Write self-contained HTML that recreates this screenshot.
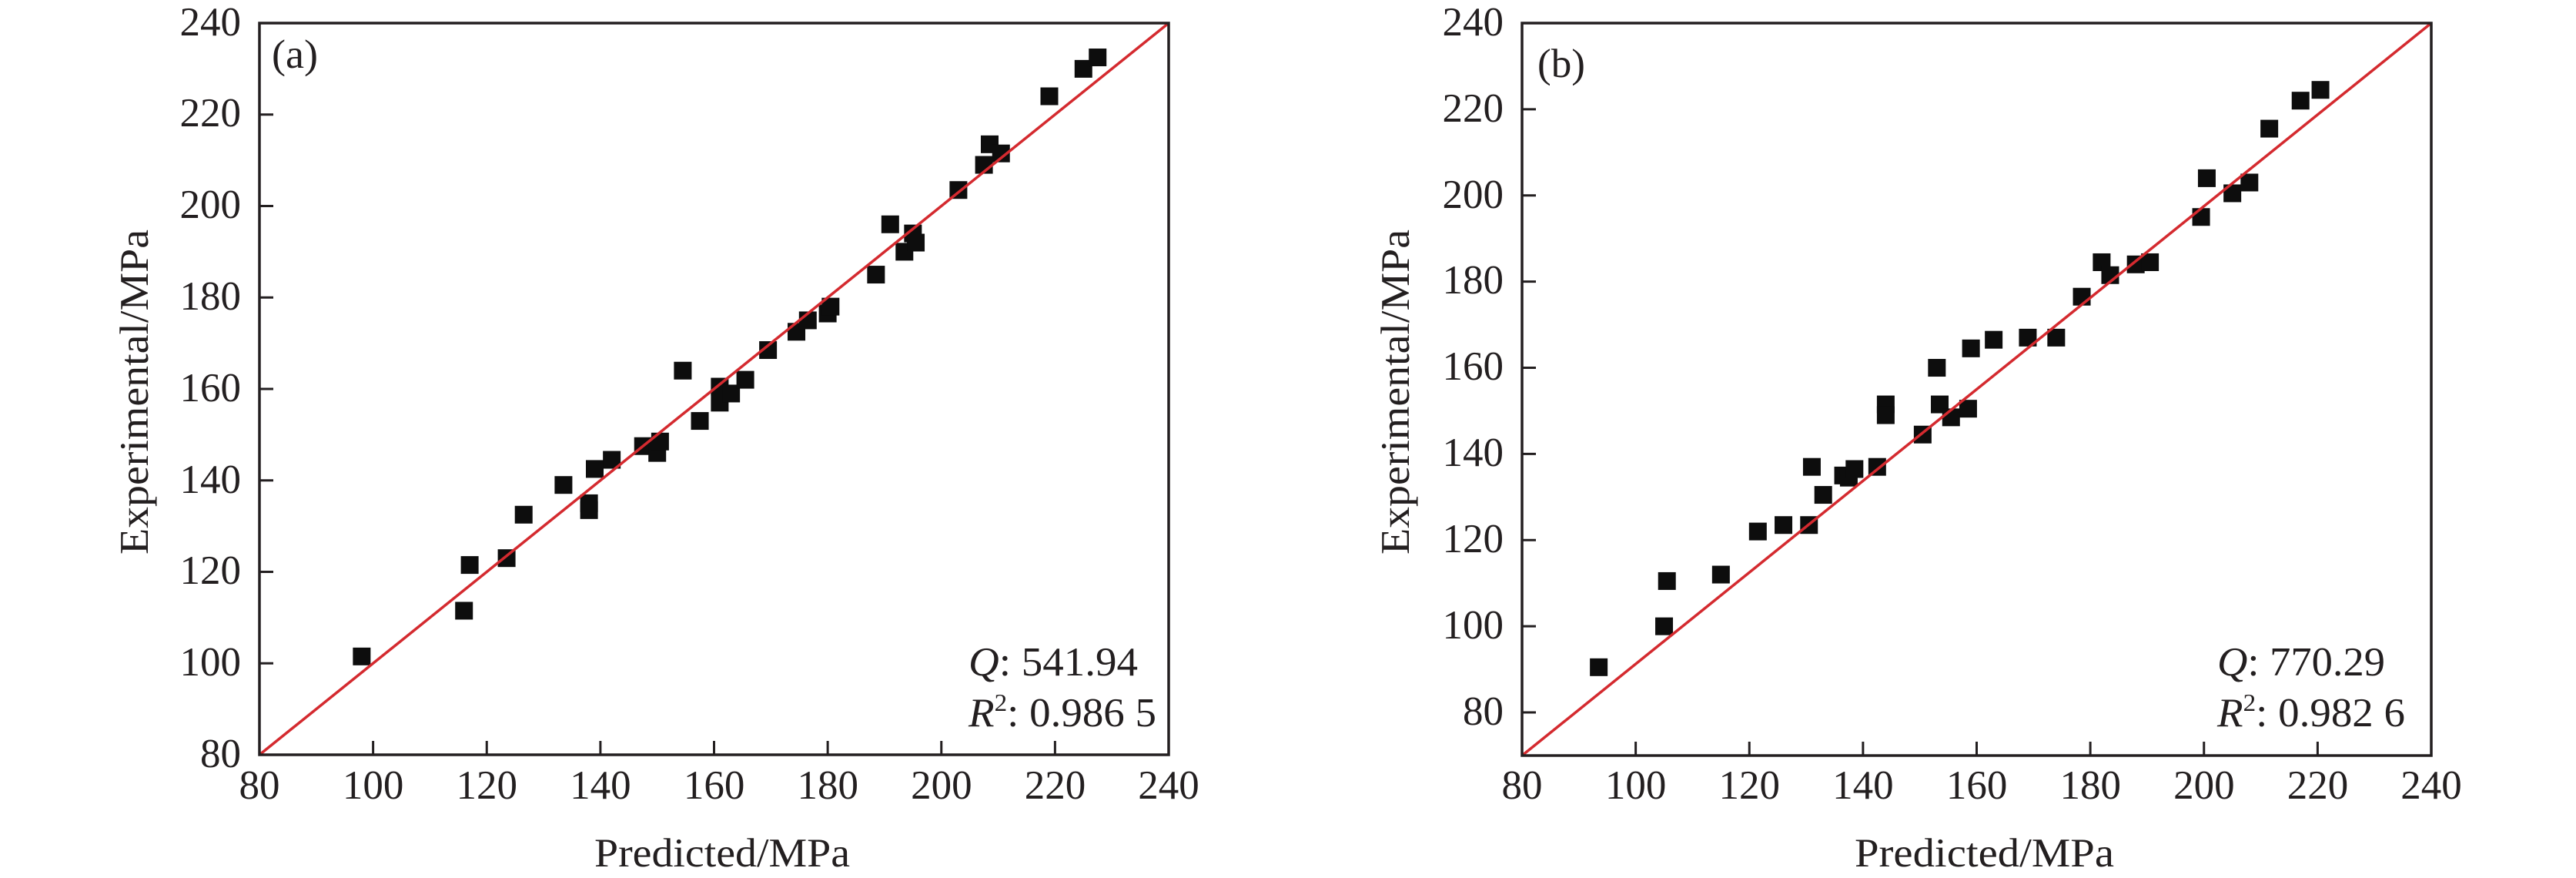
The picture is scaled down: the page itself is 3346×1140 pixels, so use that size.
<!DOCTYPE html>
<html><head><meta charset="utf-8"><style>
html,body{margin:0;padding:0;background:#fff;}
svg{display:block;}
text{font-family:"Liberation Serif",serif;fill:#231f20;}
</style></head><body>
<svg id="s" width="3346" height="1140" xmlns="http://www.w3.org/2000/svg">
<g font-size="53">
<!-- Panel a -->
<g text-anchor="end">
<text x="313" y="996">80</text><text x="313" y="877">100</text><text x="313" y="758">120</text>
<text x="313" y="640">140</text><text x="313" y="521">160</text><text x="313" y="402">180</text>
<text x="313" y="283">200</text><text x="313" y="164">220</text><text x="313" y="46">240</text>
</g>
<g text-anchor="middle">
<text x="337" y="1037">80</text><text x="484.6" y="1037">100</text><text x="632.3" y="1037">120</text>
<text x="779.9" y="1037">140</text><text x="927.6" y="1037">160</text><text x="1075.2" y="1037">180</text>
<text x="1222.9" y="1037">200</text><text x="1370.5" y="1037">220</text><text x="1518" y="1037">240</text>
</g>
<text x="772" y="1125" textLength="332" lengthAdjust="spacingAndGlyphs">Predicted/MPa</text>
<text transform="translate(192,720) rotate(-90)" textLength="422" lengthAdjust="spacingAndGlyphs">Experimental/MPa</text>
<text x="353" y="88" textLength="60" lengthAdjust="spacingAndGlyphs">(a)</text>
<text x="1258" y="877" textLength="220" lengthAdjust="spacingAndGlyphs"><tspan font-style="italic">Q</tspan>: 541.94</text>
<text x="1258" y="943" textLength="244" lengthAdjust="spacingAndGlyphs"><tspan font-style="italic">R</tspan><tspan font-size="32" dy="-20">2</tspan><tspan dy="20">: 0.986 5</tspan></text>
<!-- Panel b -->
<g text-anchor="end">
<text x="1953" y="941">80</text><text x="1953" y="829">100</text><text x="1953" y="717">120</text>
<text x="1953" y="605">140</text><text x="1953" y="493">160</text><text x="1953" y="381">180</text>
<text x="1953" y="270">200</text><text x="1953" y="158">220</text><text x="1953" y="46">240</text>
</g>
<g text-anchor="middle">
<text x="1977" y="1037">80</text><text x="2124.6" y="1037">100</text><text x="2272.3" y="1037">120</text>
<text x="2419.9" y="1037">140</text><text x="2567.6" y="1037">160</text><text x="2715.2" y="1037">180</text>
<text x="2862.9" y="1037">200</text><text x="3010.5" y="1037">220</text><text x="3158" y="1037">240</text>
</g>
<text x="2409" y="1125" textLength="337" lengthAdjust="spacingAndGlyphs">Predicted/MPa</text>
<text transform="translate(1830,720) rotate(-90)" textLength="422" lengthAdjust="spacingAndGlyphs">Experimental/MPa</text>
<text x="1997" y="100" textLength="62" lengthAdjust="spacingAndGlyphs">(b)</text>
<text x="2880" y="877" textLength="218" lengthAdjust="spacingAndGlyphs"><tspan font-style="italic">Q</tspan>: 770.29</text>
<text x="2880" y="943" textLength="244" lengthAdjust="spacingAndGlyphs"><tspan font-style="italic">R</tspan><tspan font-size="32" dy="-20">2</tspan><tspan dy="20">: 0.982 6</tspan></text>
</g>
<g id="pa"></g><g id="pb"></g>
</svg>
<script>
var NS="http://www.w3.org/2000/svg",s=document.getElementById('s');
function el(n,a){var e=document.createElementNS(NS,n);for(var k in a)e.setAttribute(k,a[k]);s.appendChild(e);return e;}
function panel(L,B,ymin,pts){
 var R=L+1181,T=30,sx=1181/160,sy=(B-T)/(240-ymin);
 var X=function(v){return L+(v-80)*sx},Y=function(v){return B-(v-ymin)*sy};
 pts.forEach(function(p){el('rect',{x:X(p[0])-11.5,y:Y(p[1])-11.5,width:23,height:23,fill:'#0d0d0d'});});
 el('line',{x1:L,y1:B,x2:R,y2:T,stroke:'#d42a2f','stroke-width':3.5});
 for(var v=100;v<240;v+=20){el('line',{x1:X(v),y1:B,x2:X(v),y2:B-18,stroke:'#231f20','stroke-width':3});}
 for(var v=80;v<240;v+=20){if(v>ymin)el('line',{x1:L,y1:Y(v),x2:L+18,y2:Y(v),stroke:'#231f20','stroke-width':3});}
 el('rect',{x:L,y:T,width:R-L,height:B-T,fill:'none',stroke:'#231f20','stroke-width':3.5});
}
panel(337,980,80,[[98,101.5],[116,111.5],[117,121.5],[123.5,123],[126.5,132.5],[133.5,139],[138,135],[138,133.5],[139,142.5],[142,144.5],[147.5,147.5],[150,146],[150.5,148.5],[154.5,164],[157.5,153],[161,160.5],[161,157],[163,159],[165.5,162],[169.5,168.5],[174.5,172.5],[176.5,175],[180,176.5],[180.5,178],[188.5,185],[191,196],[193.5,190],[195,194],[195.5,192],[203,203.5],[207.5,209],[208.5,213.5],[210.5,211.5],[219,224],[225,230],[227.5,232.5]]);
panel(1977,981,70,[[93.5,90.5],[105,100],[105.5,110.5],[115,112],[121.5,122],[126,123.5],[130.5,123.5],[131,137],[133,130.5],[136.5,135],[137.5,134.5],[138.5,136.5],[142.5,137],[144,151.5],[144,149],[150.5,144.5],[153,160],[153.5,151.5],[155.5,148.5],[158.5,150.5],[159,164.5],[163,166.5],[169,167],[174,167],[178.5,176.5],[182,184.5],[183.5,181.5],[188,184],[190.5,184.5],[199.5,195],[200.5,204],[205,200.5],[208,203],[211.5,215.5],[217,222],[220.5,224.5]]);
</script>
</body></html>
